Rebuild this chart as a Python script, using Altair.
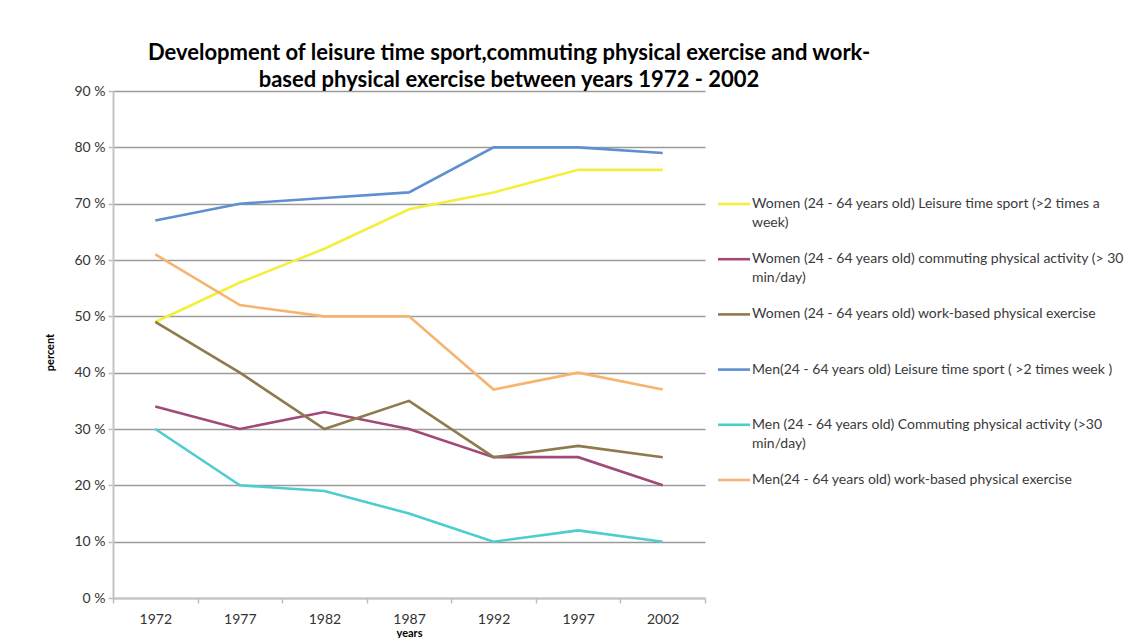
import altair as alt
import pandas as pd

years = ["1972", "1977", "1982", "1987", "1992", "1997", "2002"]

series_names = [
    "Women (24 - 64 years old) Leisure time sport (>2 times a week)",
    "Women (24 - 64 years old) commuting physical activity (> 30 min/day)",
    "Women (24 - 64 years old) work-based physical exercise",
    "Men(24 - 64 years old) Leisure time sport ( >2 times week )",
    "Men (24 - 64 years old) Commuting physical activity (>30 min/day)",
    "Men(24 - 64 years old) work-based physical exercise",
]
legend_labels = [
    "Women (24 - 64 years old) Leisure time sport (>2 times a\nweek)",
    "Women (24 - 64 years old) commuting physical activity (> 30\nmin/day)",
    "Women (24 - 64 years old) work-based physical exercise",
    "Men(24 - 64 years old) Leisure time sport ( >2 times week )",
    "Men (24 - 64 years old) Commuting physical activity (>30\nmin/day)",
    "Men(24 - 64 years old) work-based physical exercise",
]

women_leisure = [49, 56, 62, 69, 72, 76, 76]
women_commuting = [34, 30, 33, 30, 25, 25, 20]
women_work = [49, 40, 30, 35, 25, 27, 25]
men_leisure = [67, 70, 71, 72, 80, 80, 79]
men_commuting = [30, 20, 19, 15, 10, 12, 10]
men_work = [61, 52, 50, 50, 37, 40, 37]

colors = ["#F4EE3C", "#A04A7A", "#8E7A4C", "#5E8FCF", "#4ECDD0", "#F6B46E"]

all_values = [women_leisure, women_commuting, women_work,
              men_leisure, men_commuting, men_work]

rows = []
for name, vals in zip(series_names, all_values):
    for yr, v in zip(years, vals):
        rows.append({"series": name, "year": yr, "value": v})
df = pd.DataFrame(rows)

leg_df = pd.DataFrame({"series": series_names, "label": legend_labels})

font = "Lato"
color_scale = alt.Scale(domain=series_names, range=colors)

lines = alt.Chart(df).mark_line(strokeWidth=2.6).encode(
    x=alt.X("year:N", sort=years,
            scale=alt.Scale(paddingInner=0, paddingOuter=0),
            axis=alt.Axis(title="years", labelAngle=0, tickBand="extent",
                          tickSize=5, tickColor="#bdbdbd", tickWidth=1.5,
                          domainColor="#c4c4c4", domainWidth=2,
                          labelPadding=9, labelFont=font, labelFontSize=14,
                          labelColor="#333333", titleFont=font,
                          titleFontSize=11, titleFontWeight="bold",
                          titleColor="#000000", titlePadding=1)),
    y=alt.Y("value:Q", scale=alt.Scale(domain=[0, 90], nice=False),
            axis=alt.Axis(title="percent", values=list(range(0, 91, 10)),
                          labelExpr="datum.value + ' %'",
                          tickSize=5, tickColor="#bdbdbd", tickWidth=1.5,
                          domainColor="#c4c4c4", domainWidth=2,
                          labelPadding=3, labelFont=font, labelFontSize=14,
                          labelColor="#333333",
                          grid=True, gridColor="#9a9a9a", gridWidth=1.3,
                          titleFont=font, titleFontSize=11,
                          titleFontWeight="bold", titleColor="#000000",
                          titleX=-58, titleY=261)),
    color=alt.Color("series:N", scale=color_scale, legend=None),
    detail="series:N",
)

leg_y = alt.Y("series:N", sort=series_names,
              scale=alt.Scale(type="point", domain=series_names,
                              range=[113, 389], padding=0),
              axis=None)

leg_rules = alt.Chart(leg_df).mark_rule(strokeWidth=2.6).encode(
    x=alt.value(605), x2=alt.value(637),
    y=leg_y,
    color=alt.Color("series:N", scale=color_scale, legend=None),
)

leg_text = alt.Chart(leg_df).mark_text(
    align="left", baseline="top", dy=-7, lineBreak="\n",
    font=font, fontSize=14, color="#3a3a3a", lineHeight=19,
).encode(
    x=alt.value(639),
    y=leg_y,
    text="label:N",
)

chart = alt.layer(lines, leg_rules, leg_text).resolve_scale(
    y="independent"
).properties(
    width=592, height=507,
    autosize=alt.AutoSizeParams(type="none"),
    padding={"left": 105, "top": 83, "right": 420, "bottom": 40},
    title=alt.TitleParams(
        text=["Development of leisure time sport,commuting physical exercise and work-",
              "based physical exercise between years 1972 - 2002"],
        font=font, fontSize=22, fontWeight="bold", color="#000000",
        anchor="middle", dx=100, lineHeight=27, offset=-8,
    ),
).configure_view(stroke=None)

chart.save("out.html", embed_options={"renderer": "svg", "actions": False})
